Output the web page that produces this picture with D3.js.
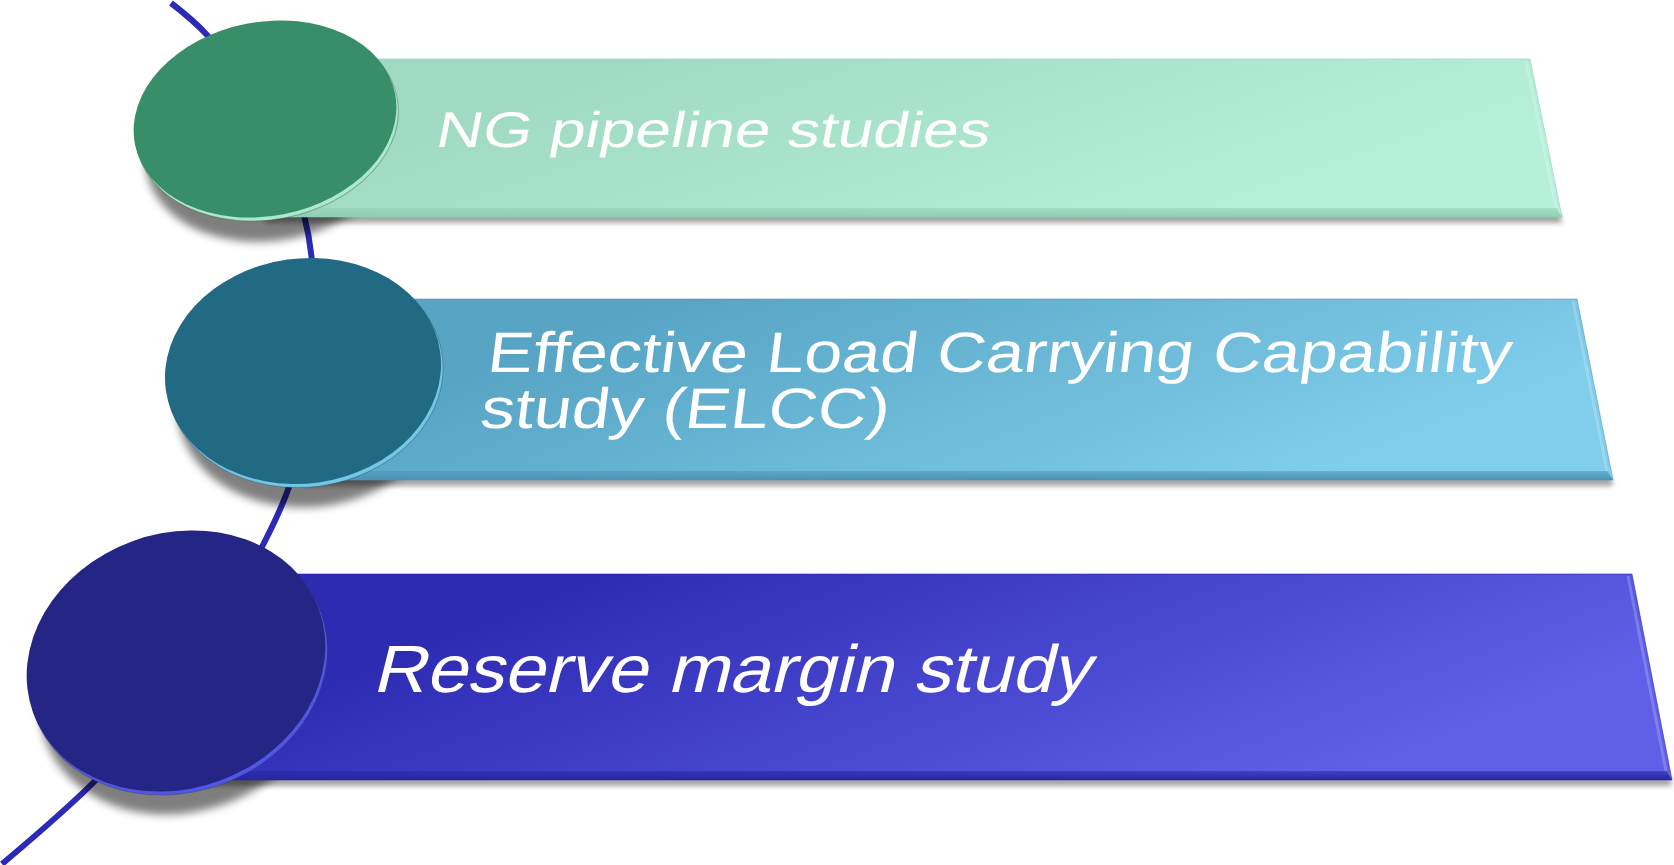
<!DOCTYPE html>
<html>
<head>
<meta charset="utf-8">
<script src="https://cdn.jsdelivr.net/npm/d3@7"></script>
<style>
  html, body { margin: 0; padding: 0; background: #ffffff; }
  svg { display: block; }
</style>
</head>
<body>
<svg id="chart"></svg>
<script>
// Step labels, one entry per row (each entry holds the text lines)
const labels = [
  ["NG pipeline studies"],
  ["Effective Load Carrying Capability", "study (ELCC)"],
  ["Reserve margin study"]
];
// Disc face and rim colours
const discColors = ["#388e69", "#226a83", "#242585"];
const rimColors  = ["#a9e9ce", "#70c7e7", "#5057e6"];
// Banner gradient stops and bevel colours
const bandStart  = ["#a1dac2", "#57a4c4", "#2e2bb3"];
const bandEnd    = ["#b7f0da", "#80ceeb", "#5f5fe8"];
const bevelColors = ["#8ecfb2", "#4b93b3", "#2626a0"];
const spineColor = "#2b2bb6";

// Geometry of each row (disc, banner and text placement)
const layout = [
  { cx: 265, cy: 119, rx: 132.5, ry: 97,  rot: -11,
    top: 59,  bottom: 217, rightTop: 1530, rightBottom: 1562,
    textX: 434, baselines: [147], fontSize: 50, textWidth: 554, slant: 11 },
  { cx: 303, cy: 371, rx: 138.5, ry: 112.5, rot: -8,
    top: 299, bottom: 480, rightTop: 1577, rightBottom: 1613,
    textX: 486, baselines: [372, 428], fontSize: 57, textWidth: 1024, slant: 7 },
  { cx: 176, cy: 661, rx: 152, ry: 127.5, rot: -20,
    top: 574, bottom: 780, rightTop: 1632, rightBottom: 1672,
    textX: 372, baselines: [692], fontSize: 67, textWidth: 717, slant: 14 }
];

// Path of the curved spine that threads through the discs
const spine = [[171,3],[207,35],[262,112],[304,215],[314,300],[306,420],
               [289,487],[264,543],[185,680],[96,780],[2,864]];

const W = 1674, H = 865;
const svg = d3.select("#chart").attr("width", W).attr("height", H);
svg.append("rect").attr("width", W).attr("height", H).attr("fill", "#ffffff");

const defs = svg.append("defs");
defs.append("filter").attr("id", "softShadow")
  .attr("x", "-20%").attr("y", "-20%").attr("width", "140%").attr("height", "160%")
  .append("feGaussianBlur").attr("stdDeviation", 4.5);
defs.append("filter").attr("id", "edgeShadow")
  .attr("x", "-5%").attr("y", "-50%").attr("width", "110%").attr("height", "200%")
  .append("feGaussianBlur").attr("stdDeviation", 2.5);

const rows = layout.map((L, i) => ({ ...L, i, lines: labels[i] }));

rows.forEach(r => {
  const g = defs.append("linearGradient").attr("id", "band" + r.i)
    .attr("x1", "0").attr("y1", "0").attr("x2", "1").attr("y2", "0.35");
  g.append("stop").attr("offset", "0").attr("stop-color", bandStart[r.i]);
  g.append("stop").attr("offset", "0.25").attr("stop-color", bandStart[r.i]);
  g.append("stop").attr("offset", "1").attr("stop-color", bandEnd[r.i]);
  const b = defs.append("linearGradient").attr("id", "bevel" + r.i)
    .attr("x1", "0").attr("y1", "0").attr("x2", "0").attr("y2", "1");
  b.append("stop").attr("offset", "0").attr("stop-color", bevelColors[r.i]).attr("stop-opacity", 0.5);
  b.append("stop").attr("offset", "1").attr("stop-color", bevelColors[r.i]);
});

// Spine curve, drawn first so shadows and discs sit over it
svg.append("path")
  .datum(spine)
  .attr("d", d3.line().curve(d3.curveCatmullRom.alpha(0.5)))
  .attr("fill", "none")
  .attr("stroke", spineColor)
  .attr("stroke-width", 6);

const rowG = svg.selectAll("g.row").data(rows).join("g").attr("class", "row");

// Banner shadow
rowG.append("path")
  .attr("d", d => `M${d.cx},${d.bottom - 4} L${d.rightBottom - 2},${d.bottom - 4} L${d.rightBottom},${d.bottom + 6} L${d.cx},${d.bottom + 6} Z`)
  .attr("fill", "#000").attr("opacity", 0.35)
  .attr("filter", "url(#edgeShadow)");

// Disc shadow
rowG.append("ellipse")
  .attr("transform", d => `translate(${d.cx + 8},${d.cy + 29}) rotate(${d.rot})`)
  .attr("rx", d => d.rx * 0.97).attr("ry", d => d.ry * 0.95)
  .attr("fill", "#000").attr("opacity", 0.5)
  .attr("filter", "url(#softShadow)");

// Banner body
rowG.append("path")
  .attr("d", d => `M${d.cx},${d.top} L${d.rightTop},${d.top} L${d.rightBottom},${d.bottom} L${d.cx},${d.bottom} Z`)
  .attr("fill", d => `url(#band${d.i})`)
  .attr("stroke", d => bevelColors[d.i]).attr("stroke-width", 0.8).attr("stroke-opacity", 0.7);

// Bottom bevel of the banner
rowG.append("path")
  .attr("d", d => {
    const h = 9, slope = (d.rightBottom - d.rightTop) / (d.bottom - d.top);
    const xr = d.rightBottom - slope * h;
    return `M${d.cx},${d.bottom - h} L${xr - 4},${d.bottom - h} L${d.rightBottom},${d.bottom} L${d.cx},${d.bottom} Z`;
  })
  .attr("fill", d => `url(#bevel${d.i})`);

// Slanted right-edge highlight
rowG.append("path")
  .attr("d", d => `M${d.rightTop - 4},${d.top + 2} L${d.rightBottom - 6},${d.bottom - 9}`)
  .attr("stroke", "#ffffff").attr("stroke-opacity", 0.2).attr("stroke-width", 3).attr("fill", "none");

// Disc rim (visible edge of the tilted disc)
rowG.append("ellipse")
  .attr("transform", d => `translate(${d.cx + 2},${d.cy + 3.5}) rotate(${d.rot})`)
  .attr("rx", d => d.rx).attr("ry", d => d.ry)
  .attr("fill", d => rimColors[d.i])
  .attr("stroke", "#3a3a3a").attr("stroke-opacity", 0.35).attr("stroke-width", 1);

// Disc face
rowG.append("ellipse")
  .attr("transform", d => `translate(${d.cx},${d.cy}) rotate(${d.rot})`)
  .attr("rx", d => d.rx).attr("ry", d => d.ry)
  .attr("fill", d => discColors[d.i]);

// Labels: upright face widened to the banner's text span, then slanted
rowG.each(function(d) {
  const tg = d3.select(this).append("g");
  const texts = tg.selectAll("text").data(d.lines.map((t, k) => ({ t, y: d.baselines[k] - d.baselines[0] })))
    .join("text")
    .attr("x", 0).attr("y", t => t.y)
    .attr("fill", "#ffffff")
    .attr("font-family", "'Liberation Sans', Arial, sans-serif")
    .attr("font-size", d.fontSize)
    .text(t => t.t);
  const widest = d3.max(texts.nodes(), n => n.getComputedTextLength());
  const sx = d.textWidth / widest;
  tg.attr("transform", `translate(${d.textX},${d.baselines[0]}) skewX(${-d.slant}) scale(${sx},1)`);
});
</script>
</body>
</html>
